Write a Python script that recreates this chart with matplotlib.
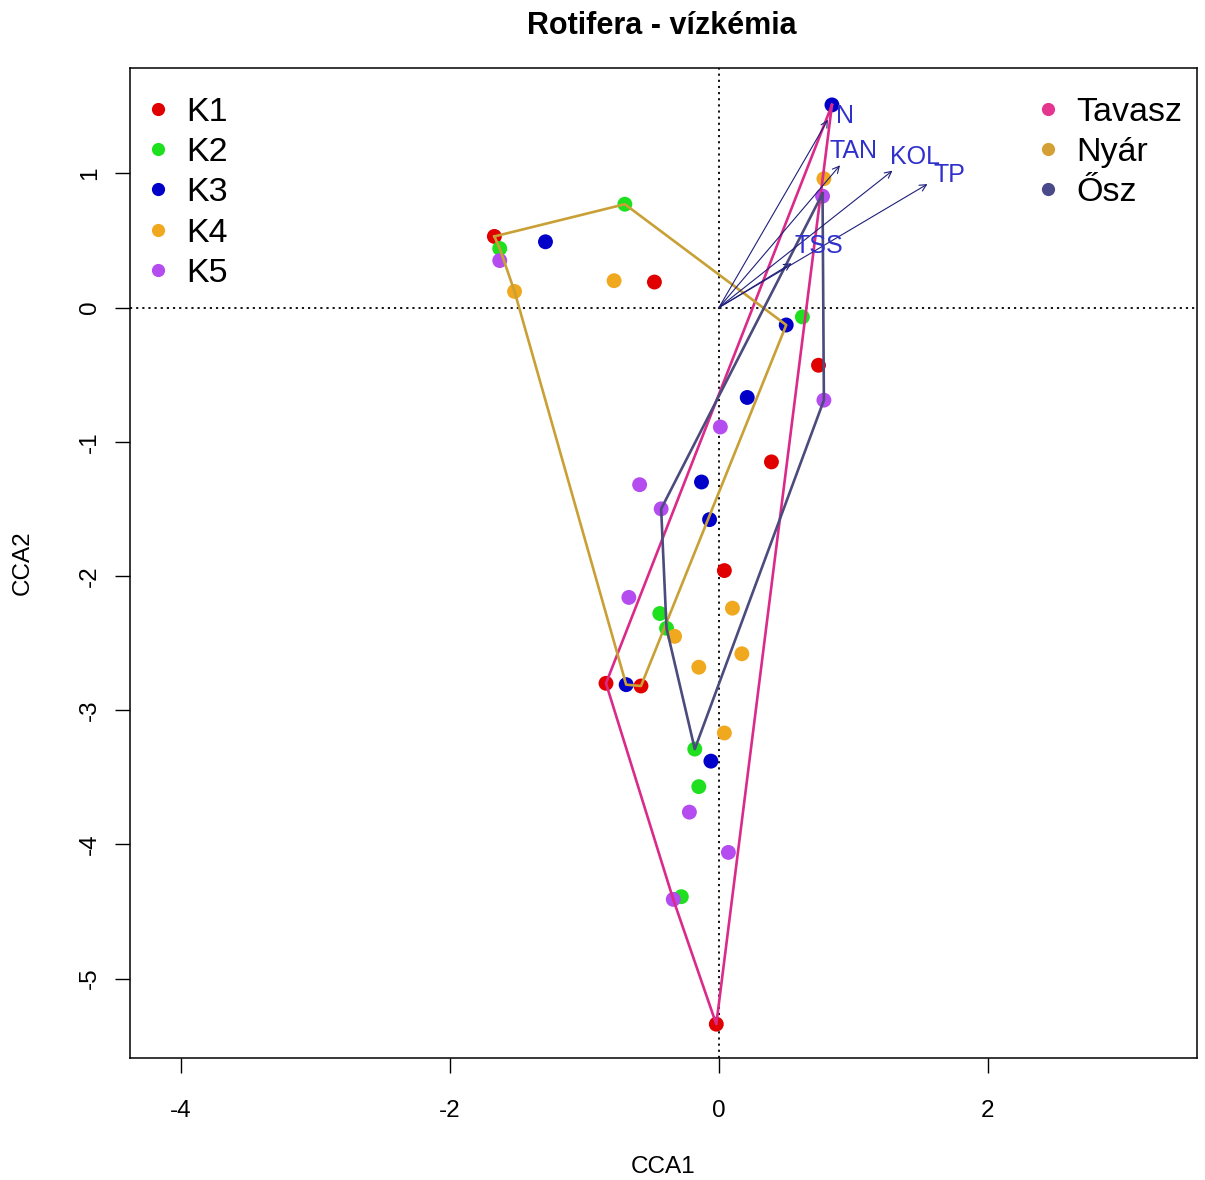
import matplotlib
matplotlib.use("Agg")
import matplotlib.pyplot as plt
from matplotlib.lines import Line2D

plt.rcParams['font.family'] = ['Liberation Sans', 'DejaVu Sans']

# ---- data ----
sites = ["K1", "K2", "K3", "K4", "K5"]
site_colors = ["#E00000", "#1EE01E", "#0000C8", "#F0A81E", "#B44CF0"]

K1_x = [-1.67, -0.48, 0.74, 0.39, 0.04, -0.84, -0.58, -0.02]
K1_y = [0.53, 0.19, -0.43, -1.15, -1.96, -2.80, -2.82, -5.34]
K2_x = [-1.63, -0.70, 0.62, -0.44, -0.39, -0.18, -0.15, -0.28]
K2_y = [0.44, 0.77, -0.07, -2.28, -2.39, -3.29, -3.57, -4.39]
K3_x = [-1.29, 0.84, 0.50, 0.21, -0.13, -0.07, -0.69, -0.06]
K3_y = [0.49, 1.51, -0.13, -0.67, -1.30, -1.58, -2.81, -3.38]
K4_x = [-1.52, -0.78, 0.78, 0.10, -0.33, 0.17, -0.15, 0.04]
K4_y = [0.12, 0.20, 0.96, -2.24, -2.45, -2.58, -2.68, -3.17]
K5_x = [-1.63, 0.77, 0.78, 0.01, -0.59, -0.43, -0.67, -0.22, 0.07, -0.34]
K5_y = [0.35, 0.83, -0.69, -0.89, -1.32, -1.50, -2.16, -3.76, -4.06, -4.41]

seasons = ["Tavasz", "Nyár", "Ősz"]
season_colors = ["#E5368F", "#D4A035", "#4A4A8A"]
hull_colors = ["#DA2A8A", "#C9A035", "#4B4B7E"]

Tavasz_x = [0.84, -0.84, -0.34, -0.02]
Tavasz_y = [1.51, -2.80, -4.41, -5.34]
Nyar_x = [-1.67, -0.70, 0.50, -0.58, -0.69, -1.52, -1.63]
Nyar_y = [0.53, 0.77, -0.13, -2.82, -2.81, 0.12, 0.44]
Osz_x = [0.77, 0.78, -0.18, -0.39, -0.43]
Osz_y = [0.85, -0.69, -3.29, -2.39, -1.50]

env_names = ["N", "TAN", "KOL", "TP", "TSS"]
env_x = [0.81, 0.90, 1.29, 1.55, 0.54]
env_y = [1.40, 1.06, 1.02, 0.92, 0.33]
env_lab_x = [0.94, 1.00, 1.455, 1.715, 0.74]
env_lab_y = [1.43, 1.17, 1.125, 0.985, 0.46]

xticks = [-4, -2, 0, 2]
yticks = [-5, -4, -3, -2, -1, 0, 1]

# ---- figure ----
W, H = 1205, 1180
fig = plt.figure(figsize=(W / 100, H / 100), dpi=100)
L, R, T, B = 130, 1197, 68, 1058
ax = fig.add_axes([L / W, 1 - B / H, (R - L) / W, (B - T) / H])
ax.set_xlim(-4.379, 3.554)
ax.set_ylim(-5.592, 1.785)

ax.axhline(0, color="black", lw=1.3, ls=(0, (1.2, 2.2)), zorder=1)
ax.axvline(0, color="black", lw=1.3, ls=(0, (1.2, 2.2)), zorder=1)

site_x = [K1_x, K2_x, K3_x, K4_x, K5_x]
site_y = [K1_y, K2_y, K3_y, K4_y, K5_y]
for xs, ys, c in zip(site_x, site_y, site_colors):
    ax.scatter(xs, ys, s=115, color=c, edgecolors="none", zorder=3)

hx = [Tavasz_x, Nyar_x, Osz_x]
hy = [Tavasz_y, Nyar_y, Osz_y]
for xs, ys, c in zip(hx, hy, hull_colors):
    ax.plot(list(xs) + [xs[0]], list(ys) + [ys[0]], color=c, lw=1.9, zorder=4)

for name, x, y, lx, ly in zip(env_names, env_x, env_y, env_lab_x, env_lab_y):
    ax.annotate("", xy=(x, y), xytext=(0, 0),
                arrowprops=dict(arrowstyle="->", color="#1f1f7a", lw=0.8,
                                shrinkA=0, shrinkB=0, mutation_scale=12),
                zorder=5)
    ax.text(lx, ly, name, color="#3030CC", fontsize=18,
            ha="center", va="center", zorder=6)

ax.set_xticks(xticks)
ax.set_yticks(yticks)
ax.set_xticklabels([str(v) for v in xticks])
ax.set_yticklabels([str(v) for v in yticks], rotation=90, va="center")
ax.tick_params(axis="both", direction="out", length=11, width=1,
               labelsize=17.5, colors="black")
ax.tick_params(axis="x", pad=19)
ax.tick_params(axis="y", pad=10)
for s in ax.spines.values():
    s.set_linewidth(1.1)

ax.set_xlabel("CCA1", fontsize=17.5)
ax.xaxis.set_label_coords(0.5, -0.099)
ax.set_ylabel("CCA2", fontsize=17.5)
ax.yaxis.set_label_coords(-0.090, 0.5)

fig.text(662 / W, 1 - 26 / H, "Rotifera - vízkémia", fontsize=22,
         fontweight="bold", ha="center", va="center")

LFS = 24.5
site_handles = [Line2D([], [], marker="o", ls="none", color=c, markersize=9.5,
                       markeredgewidth=0) for c in site_colors]
leg1 = ax.legend(site_handles, sites, loc="upper left",
                 bbox_to_anchor=(0.00075, 0.9845), borderaxespad=0,
                 frameon=False, fontsize=LFS, handlelength=0.8,
                 handletextpad=0.42, labelspacing=0.27, borderpad=0.4)
ax.add_artist(leg1)

season_handles = [Line2D([], [], marker="o", ls="none", color=c, markersize=9.5,
                         markeredgewidth=0) for c in season_colors]
ax.legend(season_handles, seasons, loc="upper left",
          bbox_to_anchor=(0.8349, 0.9845), borderaxespad=0,
          frameon=False, fontsize=LFS, handlelength=0.8,
          handletextpad=0.42, labelspacing=0.27, borderpad=0.4)

fig.savefig("out.png", dpi=100)
